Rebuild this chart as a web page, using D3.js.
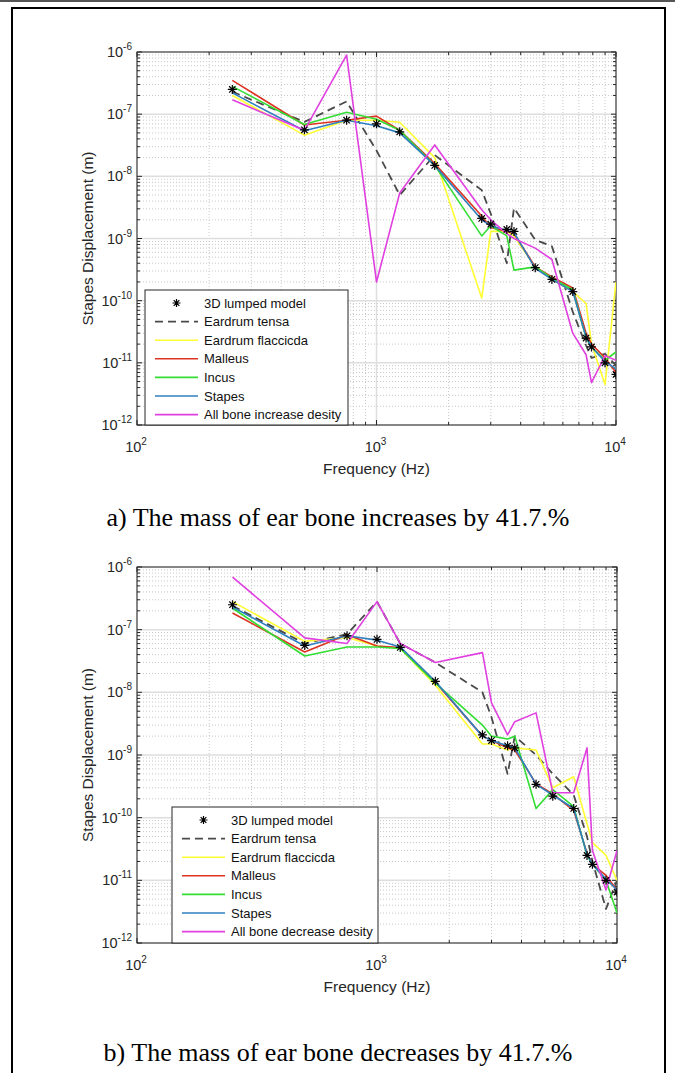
<!DOCTYPE html>
<html>
<head>
<meta charset="utf-8">
<title>Stapes displacement</title>
<style>
  body { margin: 0; background: #fff; }
  svg { display: block; }
  .tick-label { font: 14.5px "Liberation Sans", Arial, sans-serif; fill: #262626; }
  .axis-label { font: 15.5px "Liberation Sans", Arial, sans-serif; fill: #262626; }
  .caption { font: 26px "Liberation Serif", "Times New Roman", serif; fill: #000; }
  .legend text { font: 13px "Liberation Sans", Arial, sans-serif; fill: #111; }
  .series { fill: none; stroke-linejoin: round; }
</style>
</head>
<body>
<div id="chart"></div>
<script src="https://d3js.org/d3.v7.min.js"></script>
<script>
// frequencies (Hz) shared by all curves
const freqs = [250, 500, 750, 1000, 1250, 1750, 2750, 3000, 3500, 3750, 4600, 5400, 6600, 7500, 7900, 9000, 10000];

// 3D lumped model (same in both panels)
const model3D = [2.5e-7, 5.6e-8, 8e-8, 7e-8, 5.2e-8, 1.5e-8, 2.1e-9, 1.7e-9, 1.4e-9, 1.3e-9, 3.4e-10, 2.2e-10, 1.4e-10, 2.5e-11, 1.8e-11, 1.0e-11, 6.5e-12];

// panel a) mass increased
const aTensa    = [2.3e-7, 7.5e-8, 1.6e-7, 2.6e-8, 5e-9, 2.2e-8, 6e-9, 2.5e-9, 4e-10, 3.1e-9, 9.5e-10, 7.5e-10, 6.6e-11, 1.9e-11, 1.2e-11, 1.4e-11, 9e-12];
const aFlaccida = [2.0e-7, 4.6e-8, 8e-8, 8e-8, 7.4e-8, 2e-8, 1.1e-10, 1.3e-9, 1.3e-9, 1.1e-9, 3.5e-10, 2.2e-10, 1.4e-10, 9e-11, 2e-11, 4.5e-12, 2e-10];
const aMalleus  = [3.5e-7, 6.7e-8, 8e-8, 9.3e-8, 5.5e-8, 1.6e-8, 2.3e-9, 1.5e-9, 1.3e-9, 1.2e-9, 3.5e-10, 2.4e-10, 1.6e-10, 3e-11, 2e-11, 1.2e-11, 7e-12];
const aIncus    = [2.8e-7, 6.8e-8, 1.07e-7, 8.3e-8, 5.5e-8, 1.5e-8, 1.1e-9, 1.6e-9, 1.1e-9, 3.1e-10, 3.5e-10, 2.3e-10, 1.5e-10, 2.5e-11, 1.8e-11, 1.1e-11, 1.5e-11];
const aStapes   = [2.2e-7, 5.4e-8, 8e-8, 6.5e-8, 5e-8, 1.5e-8, 2e-9, 1.6e-9, 1.35e-9, 1.25e-9, 3.3e-10, 2.2e-10, 1.4e-10, 2.6e-11, 1.8e-11, 1.05e-11, 8e-12];
const aAllBone  = [1.7e-7, 5.5e-8, 8.9e-7, 2e-10, 5.4e-9, 3.2e-8, 2.9e-9, 2e-9, 1.2e-9, 1e-9, 7e-10, 4.6e-10, 3e-11, 1.35e-11, 4.8e-12, 1.3e-11, 1.1e-11];

// panel b) mass decreased
const bTensa    = [2.4e-7, 6e-8, 8.5e-8, 2.8e-7, 6e-8, 3e-8, 1e-8, 4e-9, 5e-10, 2e-9, 1e-9, 5e-10, 2.3e-10, 5e-11, 2e-11, 3.5e-12, 1e-11];
const bFlaccida = [2.8e-7, 6.5e-8, 7.5e-8, 5.5e-8, 5e-8, 1.3e-8, 1.5e-9, 1.5e-9, 1.2e-9, 1.3e-9, 1.2e-9, 3e-10, 4.5e-10, 8e-11, 4e-11, 2.5e-11, 1e-11];
const bMalleus  = [1.85e-7, 4.4e-8, 8.3e-8, 5.5e-8, 5.2e-8, 1.45e-8, 2e-9, 1.7e-9, 1.3e-9, 1.2e-9, 3.5e-10, 2.4e-10, 1.3e-10, 2.7e-11, 1.8e-11, 1.2e-11, 7e-12];
const bIncus    = [2.2e-7, 3.8e-8, 5.3e-8, 5.3e-8, 5e-8, 1.4e-8, 3e-9, 2e-9, 1.8e-9, 2e-9, 1.4e-10, 2.8e-10, 1.5e-10, 2.5e-11, 1.8e-11, 1e-11, 3e-12];
const bStapes   = [2.3e-7, 5.5e-8, 8e-8, 6.8e-8, 5.3e-8, 1.5e-8, 2e-9, 1.7e-9, 1.4e-9, 1.3e-9, 3.4e-10, 2.3e-10, 1.4e-10, 2.6e-11, 1.8e-11, 1.05e-11, 7e-12];
const bAllBone  = [6.9e-7, 7.4e-8, 6e-8, 2.8e-7, 6e-8, 3e-8, 4.3e-8, 6.8e-9, 2.1e-9, 3.4e-9, 4.7e-9, 2.5e-10, 2.5e-10, 1.3e-9, 3e-11, 7e-12, 3e-11];

const legendA = ["3D lumped model", "Eardrum tensa", "Eardrum flaccicda", "Malleus", "Incus", "Stapes", "All bone increase desity"];
const legendB = ["3D lumped model", "Eardrum tensa", "Eardrum flaccicda", "Malleus", "Incus", "Stapes", "All bone decrease desity"];
const colors = ["#000", "#4a4a4a", "#ffff33", "#dd3322", "#33dd33", "#2f7fbf", "#e040e0"];

const xTicks = [1e2, 1e3, 1e4];
const yTicks = [1e-12, 1e-11, 1e-10, 1e-9, 1e-8, 1e-7, 1e-6];

const W = 675, H = 1073;
const svg = d3.select("#chart").append("svg").attr("width", W).attr("height", H);

// page frame
svg.append("line").attr("x1", 0).attr("x2", W).attr("y1", 1).attr("y2", 1)
  .attr("stroke", "#555").attr("stroke-width", 2);
svg.append("path").attr("d", `M12,${H + 5}V8H665V${H + 5}`)
  .attr("fill", "none").attr("stroke", "#000").attr("stroke-width", 2);

// asterisk marker (MATLAB '*')
function star(r) {
  const d = r * 0.707;
  return `M${-r},0H${r}M0,${-r}V${r}M${-d},${-d}L${d},${d}M${-d},${d}L${d},${-d}`;
}

function supLabel(g, base, exp, x, y, anchor) {
  const t = g.append("text").attr("class", "tick-label").attr("x", x).attr("y", y)
    .attr("text-anchor", anchor);
  t.append("tspan").text(base);
  t.append("tspan").attr("dy", -7).attr("font-size", 10).text(exp);
}

function drawPanel(cfg) {
  const { left, right, top, bottom, series, labels, caption, legendBox } = cfg;
  const x = d3.scaleLog().domain([1e2, 1e4]).range([left, right]);
  const y = d3.scaleLog().domain([1e-12, 1e-6]).range([bottom, top]);
  const g = svg.append("g");

  // minor values
  const xMinor = [], yMinor = [];
  [1e2, 1e3].forEach(d => { for (let k = 2; k <= 9; k++) xMinor.push(d * k); });
  yTicks.slice(0, -1).forEach(d => { for (let k = 2; k <= 9; k++) yMinor.push(d * k); });

  // minor grid (dotted)
  g.selectAll(null).data(xMinor).enter().append("line")
    .attr("x1", d => x(d)).attr("x2", d => x(d)).attr("y1", top).attr("y2", bottom)
    .attr("stroke", "#c8c8c8").attr("stroke-width", 1).attr("stroke-dasharray", "1,2");
  g.selectAll(null).data(yMinor).enter().append("line")
    .attr("y1", d => y(d)).attr("y2", d => y(d)).attr("x1", left).attr("x2", right)
    .attr("stroke", "#c8c8c8").attr("stroke-width", 1).attr("stroke-dasharray", "1,2");
  // major grid
  g.selectAll(null).data(xTicks).enter().append("line")
    .attr("x1", d => x(d)).attr("x2", d => x(d)).attr("y1", top).attr("y2", bottom)
    .attr("stroke", "#dedede").attr("stroke-width", 1.5);
  g.selectAll(null).data(yTicks).enter().append("line")
    .attr("y1", d => y(d)).attr("y2", d => y(d)).attr("x1", left).attr("x2", right)
    .attr("stroke", "#dedede").attr("stroke-width", 1.5);

  // inward ticks on all four sides
  const tk = svg.append("g").attr("stroke", "#262626").attr("stroke-width", 1);
  xTicks.concat(xMinor).forEach(v => {
    const len = xTicks.includes(v) ? 5 : 3;
    tk.append("line").attr("x1", x(v)).attr("x2", x(v)).attr("y1", bottom).attr("y2", bottom - len);
    tk.append("line").attr("x1", x(v)).attr("x2", x(v)).attr("y1", top).attr("y2", top + len);
  });
  yTicks.concat(yMinor).forEach(v => {
    const len = yTicks.includes(v) ? 5 : 3;
    tk.append("line").attr("y1", y(v)).attr("y2", y(v)).attr("x1", left).attr("x2", left + len);
    tk.append("line").attr("y1", y(v)).attr("y2", y(v)).attr("x1", right).attr("x2", right - len);
  });
  svg.append("rect").attr("x", left).attr("y", top).attr("width", right - left).attr("height", bottom - top)
    .attr("fill", "none").attr("stroke", "#262626").attr("stroke-width", 1);

  // tick labels
  xTicks.forEach(v => supLabel(svg, "10", Math.round(Math.log10(v)), x(v) - 1, bottom + 27, "middle"));
  yTicks.forEach(v => supLabel(svg, "10", Math.round(Math.log10(v)), left - 5, y(v) + 5, "end"));

  svg.append("text").attr("class", "axis-label").attr("x", (left + right) / 2).attr("y", bottom + 49)
    .attr("text-anchor", "middle").text("Frequency (Hz)");
  svg.append("text").attr("class", "axis-label").attr("text-anchor", "middle")
    .attr("transform", `translate(${left - 44},${(top + bottom) / 2}) rotate(-90)`)
    .text("Stapes Displacement (m)");

  // curves
  const line = d3.line().x((d, i) => x(freqs[i])).y(d => y(d));
  const clip = "clip" + top;
  svg.append("clipPath").attr("id", clip).append("rect")
    .attr("x", left).attr("y", top).attr("width", right - left).attr("height", bottom - top);
  const cg = svg.append("g").attr("clip-path", `url(#${clip})`);
  [1, 2, 3, 4, 5, 6].forEach(k => {
    cg.append("path").attr("class", "series").attr("d", line(series[k]))
      .attr("stroke", colors[k]).attr("stroke-dasharray", k === 1 ? "8,5" : null)
      .attr("stroke-width", k === 1 ? 1.8 : 1.6);
  });
  cg.selectAll(null).data(series[0]).enter().append("path")
    .attr("transform", (d, i) => `translate(${x(freqs[i])},${y(d)})`)
    .attr("d", star(4.5)).attr("stroke", "#000").attr("stroke-width", 1.2).attr("fill", "none");

  // legend
  const lg = svg.append("g").attr("class", "legend");
  lg.append("rect").attr("x", legendBox.x).attr("y", legendBox.y)
    .attr("width", legendBox.w).attr("height", bottom - legendBox.y)
    .attr("fill", "#fff").attr("stroke", "#262626").attr("stroke-width", 1);
  labels.forEach((lab, k) => {
    const yy = legendBox.y + 13 + k * 18.6;
    const x0 = legendBox.x + 10, x1 = legendBox.x + 53;
    if (k === 0) {
      lg.append("path").attr("transform", `translate(${(x0 + x1) / 2},${yy})`)
        .attr("d", star(4)).attr("stroke", "#000").attr("stroke-width", 1.2);
    } else {
      lg.append("line").attr("x1", x0).attr("x2", x1).attr("y1", yy).attr("y2", yy)
        .attr("stroke", colors[k]).attr("stroke-width", 1.6)
        .attr("stroke-dasharray", k === 1 ? "8,5" : null);
    }
    lg.append("text").attr("x", legendBox.x + 59).attr("y", yy + 4.5).text(lab);
  });

  svg.append("text").attr("class", "caption").attr("x", 338).attr("y", caption.y)
    .attr("text-anchor", "middle").text(caption.text);
}

drawPanel({
  left: 137, right: 616, top: 52, bottom: 425,
  series: [model3D, aTensa, aFlaccida, aMalleus, aIncus, aStapes, aAllBone],
  labels: legendA,
  legendBox: { x: 145, y: 290, w: 203 },
  caption: { text: "a) The mass of ear bone increases by 41.7.%", y: 526 }
});
drawPanel({
  left: 137, right: 617, top: 567, bottom: 943,
  series: [model3D, bTensa, bFlaccida, bMalleus, bIncus, bStapes, bAllBone],
  labels: legendB,
  legendBox: { x: 172, y: 807, w: 206 },
  caption: { text: "b) The mass of ear bone decreases by 41.7.%", y: 1061 }
});
</script>
</body>
</html>
